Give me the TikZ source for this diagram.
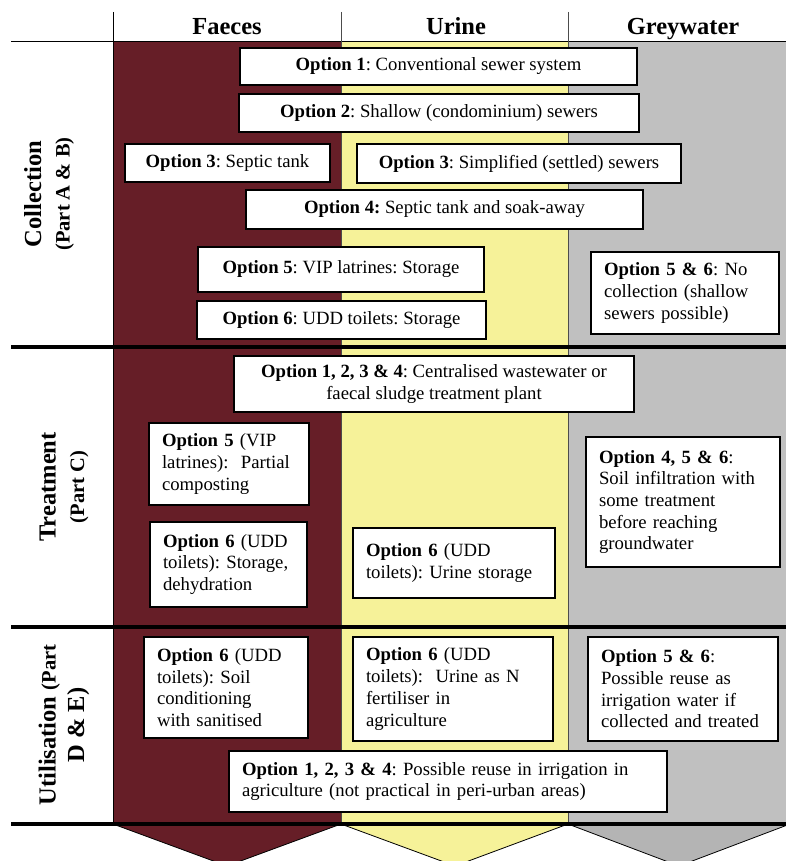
\documentclass[tikz,border=0pt]{standalone}
\usepackage{fontspec}
\setmainfont{Liberation Serif}
\frenchspacing

\definecolor{faecesred}{RGB}{102,30,39}
\definecolor{urineyellow}{RGB}{246,242,153}
\definecolor{greywater}{RGB}{192,192,192}
\definecolor{greyarrow}{RGB}{180,180,180}

\begin{document}
\begin{tikzpicture} [x=1pt,y=-1pt,
	option box/.style={
		rectangle,draw=black,fill=white,line width=1.2pt,
		font=\fontsize{18.7}{21.7}\selectfont,inner sep=0pt,align=center},
	option list/.style={
		option box,align=left,inner xsep=13pt,
		execute at begin node={\hyphenpenalty=10000\relax}},
	head/.style={
		font=\fontsize{24.5}{29}\selectfont\bfseries,anchor=base},
	stage/.style={
		rotate=90,align=center,font=\fontsize{24.5}{28.5}\selectfont\bfseries},
	rule/.style={line width=0.8pt},
	thick rule/.style={line width=3.5pt},
	chevron/.style={draw=black,line width=0.8pt}]
\useasboundingbox (0,0) rectangle (786,861);
\clip (0,0) rectangle (786,861);
\fill[faecesred] (113,41) rectangle (341,824);
\fill[urineyellow] (341,41) rectangle (568,824);
\fill[greywater] (568,41) rectangle (790,824);
\filldraw[fill=faecesred,chevron] (113,824) -- (227,866) -- (341,824);
\filldraw[fill=urineyellow,chevron] (341,824) -- (455,866) -- (568,824);
\filldraw[fill=greyarrow,chevron] (568,824) -- (679,866) -- (790,824);
\draw[rule] (11,41) -- (786,41);
\draw[rule] (113,12) -- (113,824);
\draw[rule,black!70] (341,12) -- (341,824);
\draw[rule,black!70] (568,12) -- (568,824);
\draw[thick rule] (11,347) -- (786,347);
\draw[thick rule] (11,627) -- (786,627);
\draw[thick rule] (11,824) -- (786,824);
\node[head] (faeces) 		at (227,35) {Faeces};
\node[head] (urine) 		at (456,35) {Urine};
\node[head] (greywater) 	at (683,35) {Greywater};
\node[stage] (collection) 	at (49,194) {Collection\\\fontsize{20.5}{28.5}\selectfont(Part A \& B)};
\node[stage] (treatment) 	at (64,487) {Treatment\\\fontsize{20.5}{28.5}\selectfont(Part C)};
\node[stage] (utilisation) 	at (64,725) {Utilisation \fontsize{20.5}{28.5}\selectfont(Part\\D \& E)};
\node[option box,minimum width=397pt,minimum height=37pt] (collect one) 	at (438.5,66.5) {\textbf{Option 1}: Conventional sewer system};
\node[option box,minimum width=400pt,minimum height=38pt] (collect two) 	at (439,113) {\textbf{Option 2}: Shallow (condominium) sewers};
\node[option box,minimum width=205pt,minimum height=38pt] (collect three a) 	at (227.5,163) {\textbf{Option 3}: Septic tank};
\node[option box,minimum width=324pt,minimum height=39pt] (collect three b) 	at (519,163.5) {\textbf{Option 3}: Simplified (settled) sewers};
\node[option box,minimum width=397pt,minimum height=39pt] (collect four) 	at (444.5,209.5) {\textbf{Option 4:} Septic tank and soak-away};
\node[option box,minimum width=286pt,minimum height=45pt] (collect five) 	at (341,269.5) {\textbf{Option 5}: VIP latrines: Storage};
\node[option box,minimum width=289pt,minimum height=38pt] (collect six) 	at (341.5,320) {\textbf{Option 6}: UDD toilets: Storage};
\node[option list,text width=162pt,minimum height=82pt] (collect grey) 	at (685,293) {\textbf{Option 5 \& 6}: No\\collection (shallow\\sewers possible)};
\node[option box,minimum width=400pt,minimum height=56pt] (treat central) 	at (434,384) {\textbf{Option 1, 2, 3 \& 4}: Centralised wastewater or\\faecal sludge treatment plant};
\node[option list,text width=134pt,minimum height=82pt] (treat five) 	at (229,464) {\textbf{Option 5} (VIP\\latrines): ~Partial\\composting};
\node[option list,text width=131pt,minimum height=85pt] (treat six f) 	at (228.5,564.5) {\textbf{Option 6} (UDD\\toilets): Storage,\\dehydration};
\node[option list,text width=176pt,minimum height=70pt] (treat six u) 	at (454,563) {\textbf{Option 6} (UDD\\toilets): Urine storage};
\node[option list,text width=168pt,minimum height=130pt] (treat grey) 	at (683,502) {\textbf{Option 4, 5 \& 6}:\\Soil infiltration with\\some treatment\\before reaching\\groundwater};
\node[option list,text width=138pt,minimum height=101pt] (use six f) 	at (226,687.5) {\textbf{Option 6} (UDD\\toilets): Soil\\conditioning\\with sanitised};
\node[option list,text width=174pt,minimum height=104pt] (use six u) 	at (453,689) {\textbf{Option 6} (UDD\\toilets): ~Urine as N\\fertiliser in\\agriculture};
\node[option list,text width=164pt,minimum height=104pt] (use grey) 	at (683,689) {\textbf{Option 5 \& 6}:\\Possible reuse as\\irrigation water if\\collected and treated};
\node[option list,text width=412pt,minimum height=61pt] (use irrigation) 	at (448,781.5) {\textbf{Option 1, 2, 3 \& 4}: Possible reuse in irrigation in\\agriculture (not practical in peri-urban areas)};
\end{tikzpicture}
\end{document}
